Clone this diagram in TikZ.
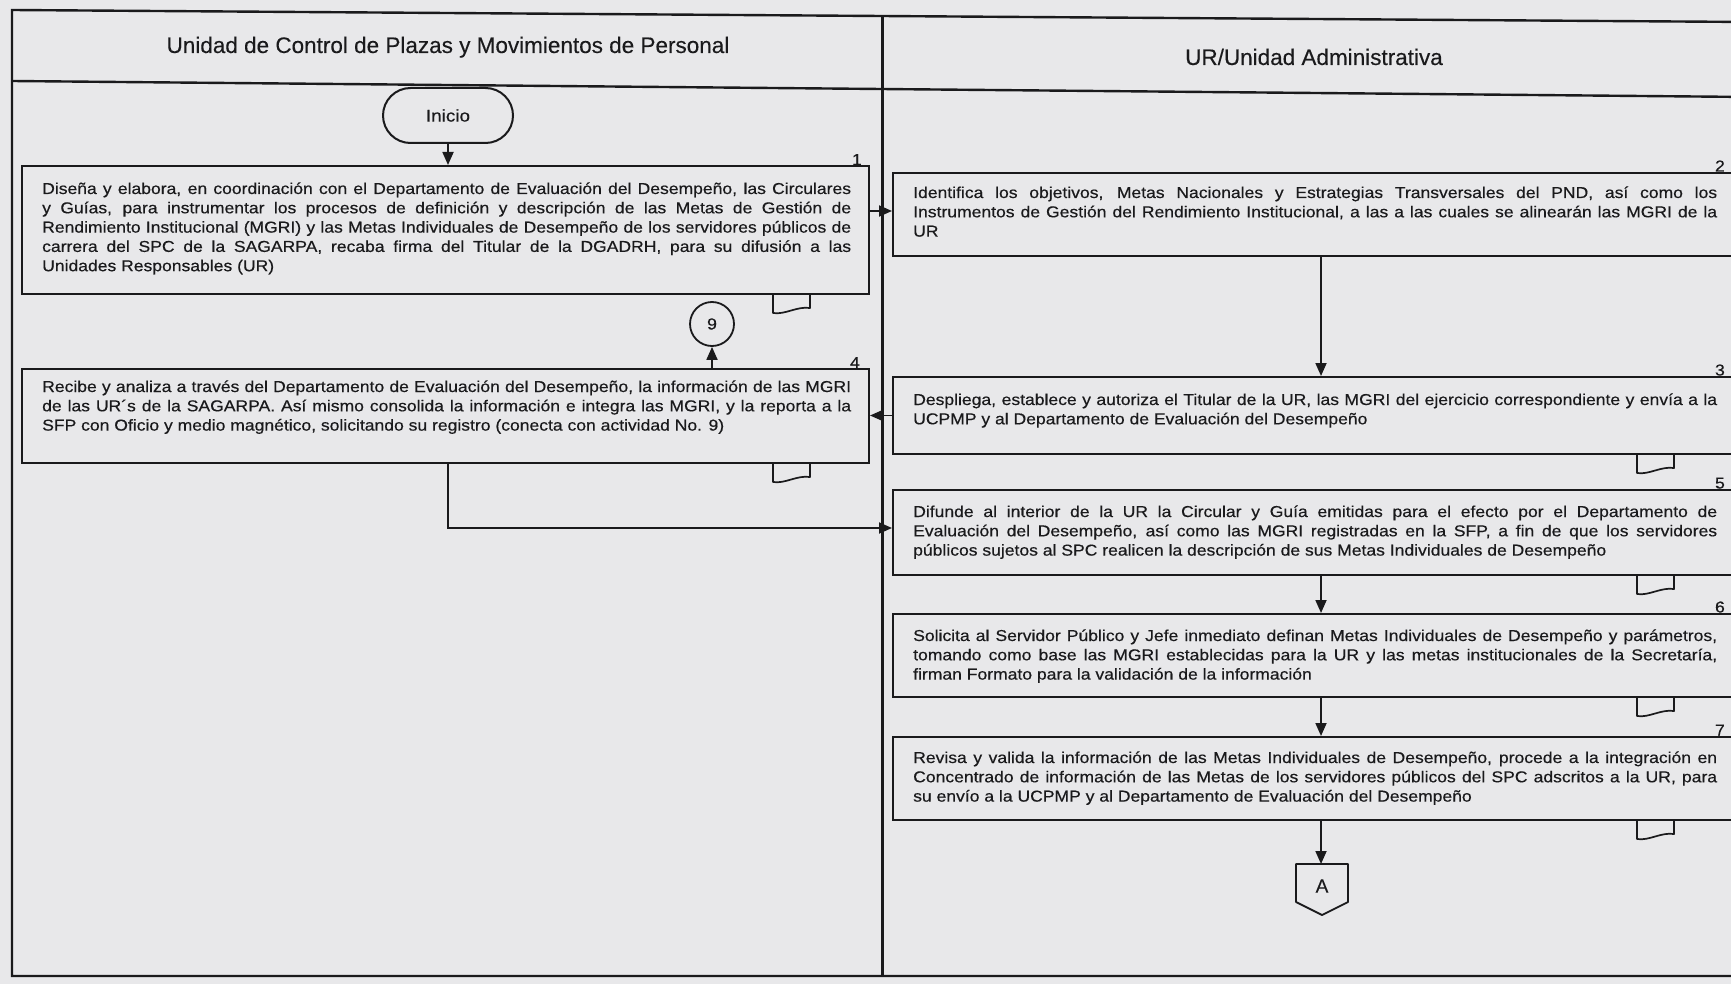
\documentclass[tikz,border=0pt]{standalone}
\usepackage{fontspec}
\setmainfont[FakeBold=0.25]{Liberation Sans}
\newfontfamily\bodyfont[FakeStretch=1.11,FakeBold=0.45]{Liberation Sans}
\usetikzlibrary{arrows.meta,shapes.misc}
\definecolor{paper}{RGB}{232,232,234}
\definecolor{ink}{RGB}{26,26,28}
\newcommand\JL[1]{\hbox to \linewidth{#1}}
\newcommand\LL[1]{\hbox{#1}}
\tikzset{
  frameline/.style={draw=ink, line width=2.4pt},
  actbox/.style={draw=ink, line width=2pt, rectangle, inner sep=0pt},
  acttext/.style={anchor=base west, inner sep=0pt, text=ink, font=\bodyfont\fontsize{15.8}{19.3}\selectfont},
  numlab/.style={anchor=base east, inner sep=0pt, text=ink, font=\bodyfont\fontsize{15.8}{16}\selectfont},
  lanetitle/.style={anchor=base, inner sep=0pt, text=ink, font=\fontsize{22.5}{27}\selectfont},
  flow/.style={draw=ink, line width=1.8pt, -{Triangle[length=13pt,width=11pt]}},
  shapeline/.style={draw=ink, line width=1.8pt, line join=round},
  docmark/.pic={\draw[ink, line width=1.7pt, line join=round] (0,0) -- (0,19) .. controls (12,21) and (24,12) .. (37,14) -- (37,0);}
}
\begin{document}
\begin{tikzpicture}[x=1pt,y=-1pt]
\useasboundingbox (0,0) rectangle (1731,984);
\fill[paper] (0,0) rectangle (1731,984);
\clip (0,0) rectangle (1731,984);

% frame and lanes
\draw[frameline] (1750,22) -- (12,10) -- (12,976) -- (1750,976);
\draw[frameline] (12,81) -- (1750,97);
\draw[frameline] (882.5,16) -- (882.5,976);

\node[lanetitle] (t1) at (448,53) {Unidad de Control de Plazas y Movimientos de Personal};
\node[lanetitle] (t2) at (1314,65) {UR/Unidad Administrativa};

% start
\node[rounded rectangle, draw=ink, line width=2pt, minimum width=130pt, minimum height=55pt,
      inner sep=0pt, font=\bodyfont\fontsize{17}{20}\selectfont, text=ink] (ini) at (448,115.5) {Inicio};

% activity boxes
\node[actbox, minimum width=847pt, minimum height=128pt] (b1) at (445.5,230) {};
\node[actbox, minimum width=847pt, minimum height=94pt]  (b4) at (445.5,416) {};
\node[actbox, minimum width=867pt, minimum height=83pt]  (b2) at (1326.5,214.5) {};
\node[actbox, minimum width=867pt, minimum height=77pt]  (b3) at (1326.5,415.5) {};
\node[actbox, minimum width=867pt, minimum height=85pt]  (b5) at (1326.5,532.5) {};
\node[actbox, minimum width=867pt, minimum height=83pt]  (b6) at (1326.5,655.5) {};
\node[actbox, minimum width=867pt, minimum height=83pt]  (b7) at (1326.5,778.5) {};

% texts
\node[acttext] (x1) at (42,194) {\parbox[t]{809pt}{%
\JL{Diseña y elabora, en coordinación con el Departamento de Evaluación del Desempeño, las Circulares}%
\JL{y Guías, para instrumentar los procesos de definición y descripción de las Metas de Gestión de}%
\JL{Rendimiento Institucional (MGRI) y las Metas Individuales de Desempeño de los servidores públicos de}%
\JL{carrera del SPC de la SAGARPA, recaba firma del Titular de la DGADRH, para su difusión a las}%
\LL{Unidades Responsables (UR)}}};

\node[acttext] (x4) at (42,392) {\parbox[t]{809pt}{%
\JL{Recibe y analiza a través del Departamento de Evaluación del Desempeño, la información de las MGRI}%
\JL{de las UR´s de la SAGARPA. Así mismo consolida la información e integra las MGRI, y la reporta a la}%
\LL{SFP con Oficio y medio magnético, solicitando su registro (conecta con actividad No. 9)}}};

\node[acttext] (x2) at (913,198) {\parbox[t]{804pt}{%
\JL{Identifica los objetivos, Metas Nacionales y Estrategias Transversales del PND, así como los}%
\JL{Instrumentos de Gestión del Rendimiento Institucional, a las a las cuales se alinearán las MGRI de la}%
\LL{UR}}};

\node[acttext] (x3) at (913,405) {\parbox[t]{804pt}{%
\JL{Despliega, establece y autoriza el Titular de la UR, las MGRI del ejercicio correspondiente y envía a la}%
\LL{UCPMP y al Departamento de Evaluación del Desempeño}}};

\node[acttext] (x5) at (913,517) {\parbox[t]{804pt}{%
\JL{Difunde al interior de la UR la Circular y Guía emitidas para el efecto por el Departamento de}%
\JL{Evaluación del Desempeño, así como las MGRI registradas en la SFP, a fin de que los servidores}%
\LL{públicos sujetos al SPC realicen la descripción de sus Metas Individuales de Desempeño}}};

\node[acttext] (x6) at (913,641) {\parbox[t]{804pt}{%
\JL{Solicita al Servidor Público y Jefe inmediato definan Metas Individuales de Desempeño y parámetros,}%
\JL{tomando como base las MGRI establecidas para la UR y las metas institucionales de la Secretaría,}%
\LL{firman Formato para la validación de la información}}};

\node[acttext] (x7) at (913,763) {\parbox[t]{804pt}{%
\JL{Revisa y valida la información de las Metas Individuales de Desempeño, procede a la integración en}%
\JL{Concentrado de información de las Metas de los servidores públicos del SPC adscritos a la UR, para}%
\LL{su envío a la UCPMP y al Departamento de Evaluación del Desempeño}}};

% numbers
\node[numlab] (n1) at (862,165) {1};
\node[numlab] (n4) at (860,368) {4};
\node[numlab] (n2) at (1725,171.5) {2};
\node[numlab] (n3) at (1725,375.5) {3};
\node[numlab] (n5) at (1725,488.5) {5};
\node[numlab] (n6) at (1725,612.5) {6};
\node[numlab] (n7) at (1725,735.5) {7};

% document marks
\pic at (773,294) {docmark};
\pic at (773,463) {docmark};
\pic at (1637,454) {docmark};
\pic at (1637,575) {docmark};
\pic at (1637,697) {docmark};
\pic at (1637,820) {docmark};

% connector 9
\node[circle, draw=ink, line width=1.8pt, minimum size=44pt, inner sep=0pt,
      font=\bodyfont\fontsize{16}{16}\selectfont, text=ink] (c9) at (712,324) {9};

% off-page connector A
\coordinate (Atop) at (1321,864);
\draw[shapeline] (1296,864) -- (1348,864) -- (1348,902) -- (1322,915) -- (1296,902) -- cycle;
\node[inner sep=0pt, font=\fontsize{19}{20}\selectfont, text=ink] (A) at (1322,886) {A};

% flow
\coordinate (colR) at (1321,0);
\coordinate (r12) at (0,211);
\coordinate (r45) at (0,528);
\draw[flow] (ini.south) -- (ini.south |- b1.north);
\draw[flow] (b1.east |- r12) -- (b2.west |- r12);
\draw[flow] (colR |- b2.south) -- (colR |- b3.north);
\draw[flow] (b3.west) -- (b3.west -| b4.east);
\draw[flow] (c9 |- b4.north) -- (c9.south);
\draw[flow] (ini |- b4.south) |- (b5.west |- r45);
\draw[flow] (colR |- b5.south) -- (colR |- b6.north);
\draw[flow] (colR |- b6.south) -- (colR |- b7.north);
\draw[flow] (colR |- b7.south) -- (Atop);
\end{tikzpicture}
\end{document}
